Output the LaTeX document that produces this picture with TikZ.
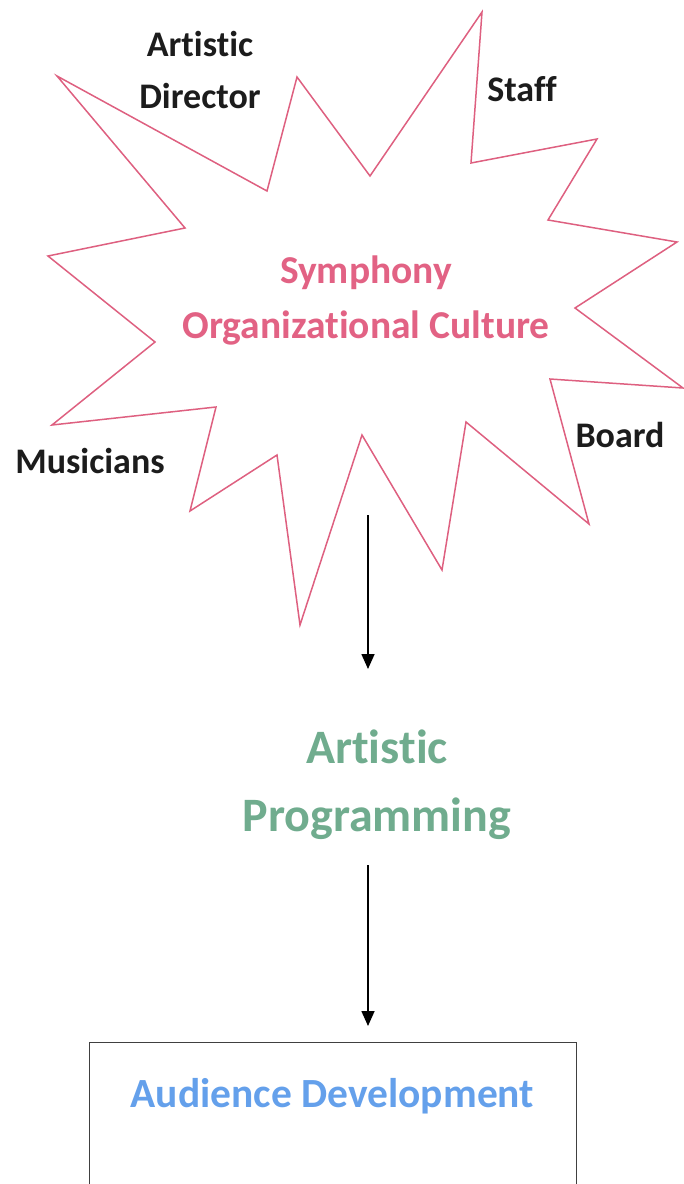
\documentclass[tikz,border=0pt]{standalone}
\usepackage{fontspec}
\setmainfont{Carlito}[Ligatures=NoCommon]
\usetikzlibrary{arrows.meta}
\definecolor{starpink}{RGB}{222,96,128}
\definecolor{textpink}{RGB}{226,98,132}
\definecolor{progreen}{RGB}{112,172,142}
\definecolor{audblue}{RGB}{100,160,235}
\definecolor{labelgray}{RGB}{28,28,28}
\tikzset{
  lbl/.style={font=\bfseries\fontsize{36}{52}\selectfont, text=labelgray, align=center, inner sep=0pt},
  arr/.style={line width=1.6pt, -{Triangle[length=15pt,width=13pt]}},
  starline/.style={draw=starpink, line width=1.5pt, line join=miter},
}
\begin{document}
\begin{tikzpicture}[x=1pt,y=-1pt]
\useasboundingbox (0,0) rectangle (684,1184);
% star
\draw[starline] (57,76) -- (267,191) -- (297,77) -- (370,176) -- (482,12) -- (471,163)
  -- (597,139) -- (548,220) -- (677,242) -- (575,308) -- (683,388) -- (550,379)
  -- (589,524) -- (466,422) -- (442,570) -- (362,435) -- (300,625) -- (277,455)
  -- (190,511) -- (216,407) -- (52,425) -- (155,342) -- (48,256) -- (185,228) -- cycle;
% labels
\node[lbl] (ad) at (200,70) {Artistic\\Director};
\node[lbl] (staff) at (522,89) {Staff};
\node[lbl] (mus) at (90,461) {Musicians};
\node[lbl] (board) at (620,435) {Board};
\node[font=\bfseries\fontsize{39.5}{55}\selectfont, text=textpink, align=center, inner sep=0pt] (culture) at (366,300) {Symphony\\Organizational Culture};
% programming
\node[font=\bfseries\fontsize{48}{68}\selectfont, text=progreen, align=center, inner sep=0pt] (prog) at (377,785) {Artistic\\Programming};
% audience box
\node[draw=black!75, line width=1pt, anchor=north, minimum width=487pt, inner xsep=0pt,
      inner ysep=35pt, text height=30pt, text depth=42pt,
      font=\bfseries\fontsize{41.5}{48}\selectfont, text=audblue] (aud) at (332.5,1042) {Audience Development};
% arrows
\coordinate (a1) at (368,515);
\coordinate (a2) at (368,865);
\draw[arr] (a1) -- (a1 |- 0,669);
\draw[arr] (a2) -- (aud.north -| a2) [shorten >=16pt];
\end{tikzpicture}
\end{document}
